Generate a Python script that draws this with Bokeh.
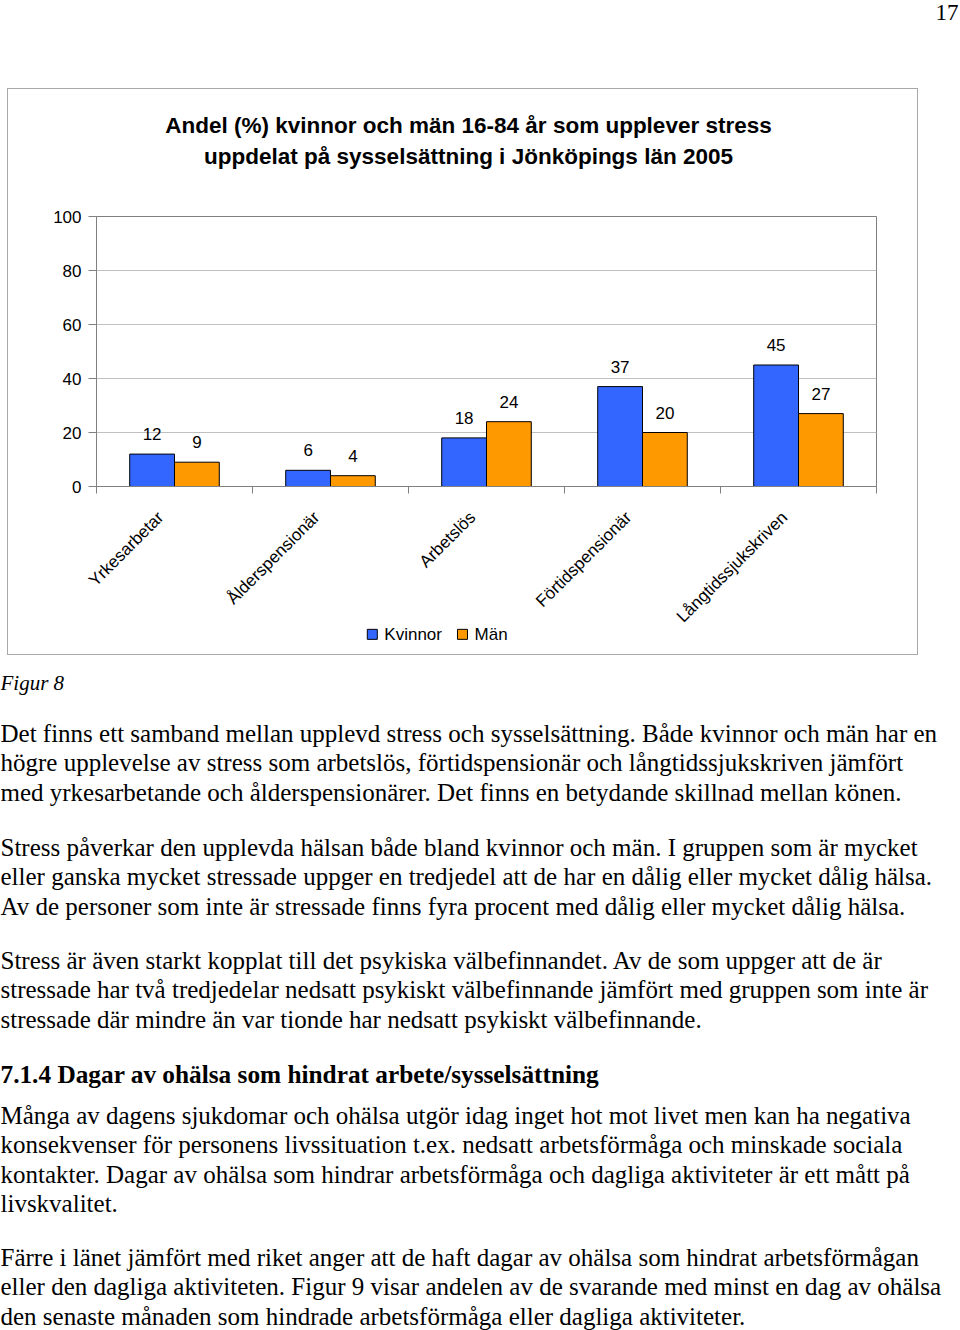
import math
from bokeh.plotting import figure
from bokeh.models import Range1d, FixedTicker, ColumnDataSource, LabelSet
from bokeh.transform import dodge
from bokeh.embed import file_html
from bokeh.resources import INLINE
from bokeh.core.properties import value

# ---------------- data ----------------
categories = ["Yrkesarbetar", "Ålderspensionär", "Arbetslös", "Förtidspensionär", "Långtidssjukskriven"]
kvinnor = [12, 6, 18, 37, 45]
man = [9, 4, 24, 20, 27]
series_names = ["Kvinnor", "Män"]
y_ticks = [0, 20, 40, 60, 80, 100]
title_lines = ["Andel (%) kvinnor och män 16-84 år som upplever stress",
               "uppdelat på sysselsättning i Jönköpings län 2005"]
page_number = "17"
caption = "Figur 8"
heading = "7.1.4 Dagar av ohälsa som hindrat arbete/sysselsättning"
paragraphs = [
    ["Det finns ett samband mellan upplevd stress och sysselsättning. Både kvinnor och män har en",
     "högre upplevelse av stress som arbetslös, förtidspensionär och långtidssjukskriven jämfört",
     "med yrkesarbetande och ålderspensionärer. Det finns en betydande skillnad mellan könen."],
    ["Stress påverkar den upplevda hälsan både bland kvinnor och män. I gruppen som är mycket",
     "eller ganska mycket stressade uppger en tredjedel att de har en dålig eller mycket dålig hälsa.",
     "Av de personer som inte är stressade finns fyra procent med dålig eller mycket dålig hälsa."],
    ["Stress är även starkt kopplat till det psykiska välbefinnandet. Av de som uppger att de är",
     "stressade har två tredjedelar nedsatt psykiskt välbefinnande jämfört med gruppen som inte  är",
     "stressade där mindre än var tionde har nedsatt psykiskt välbefinnande."],
    ["Många av dagens sjukdomar och ohälsa utgör idag inget hot mot livet men kan ha negativa",
     "konsekvenser för personens livssituation t.ex. nedsatt arbetsförmåga och minskade sociala",
     "kontakter. Dagar av ohälsa som hindrar arbetsförmåga och dagliga aktiviteter är ett mått på",
     "livskvalitet."],
    ["Färre i länet jämfört med riket anger att de haft dagar av ohälsa som hindrat arbetsförmågan",
     "eller den dagliga aktiviteten. Figur 9 visar andelen av de svarande med minst en dag av ohälsa",
     "den senaste månaden som hindrade arbetsförmåga eller dagliga aktiviteter."],
]

SANS = "Liberation Sans"
SERIF = "Liberation Serif"
BLUE = "#3366FF"
ORANGE = "#FF9900"
series_colors = [BLUE, ORANGE]
BOX = "1px solid #a8a8a8"


def blank(width, height, xr, yr, **kw):
    f = figure(width=width, height=height, x_range=xr, y_range=yr,
               output_backend="svg", toolbar_location=None, x_axis_type=None,
               y_axis_type=None, outline_line_color=None, **kw)
    f.grid.visible = False
    return f


def boxed(*sides):
    st = {"box-sizing": "content-box", "margin-left": "7px"}
    for s in sides:
        st["border-" + s] = BOX
    return st


# ---------------- header (page number) ----------------
HH = 88
hdr = blank(960, HH, Range1d(0, 960), Range1d(HH, 0), min_border=0)
hdr.text(x=[958], y=[12], text=[page_number], text_align="right", text_baseline="middle",
         text_font=value(SERIF), text_font_size="23px", text_color="black")

# ---------------- chart box (three stacked strips sharing one outline) ----------------
BW = 909                 # inner width of the chart box
FL, FR = 88, 43          # borders left/right of the plot frame
FW = BW - FL - FR        # frame width (778)

# title strip
TT = 116
tfig = blank(BW, TT, Range1d(0, FW), Range1d(TT, 0),
             min_border_left=FL, min_border_right=FR, min_border_top=0, min_border_bottom=0)
tfig.styles = boxed("top", "left", "right")
tfig.text(x=[FW / 2] * len(title_lines), y=[36 + 30 * i for i in range(len(title_lines))],
          text=title_lines, x_offset=-18, text_align="center", text_baseline="middle",
          text_font=value(SANS), text_font_size="22.5px", text_font_style="bold",
          text_color="black")

# bar chart
n = len(categories)
centers = [i + 0.5 for i in range(n)]
bounds = [float(i) for i in range(n + 1)]
src = ColumnDataSource(dict(x=centers, cat=categories, kvinnor=kvinnor, man=man,
                            kl=[str(v) for v in kvinnor], ml=[str(v) for v in man]))

PB = 20
p = figure(width=BW, height=11 + 270 + PB, x_range=Range1d(0, n), y_range=Range1d(0, 100),
           output_backend="svg", toolbar_location=None,
           min_border_left=FL, min_border_right=FR, min_border_top=11, min_border_bottom=PB,
           outline_line_color="#808080", background_fill_color="white",
           border_fill_color="white")
p.styles = boxed("left", "right")

bw = 0.287
p.vbar(x=dodge("x", -bw / 2), top="kvinnor", width=bw, source=src,
       fill_color=BLUE, line_color="black", line_width=1)
p.vbar(x=dodge("x", bw / 2), top="man", width=bw, source=src,
       fill_color=ORANGE, line_color="black", line_width=1)

for col, lab, off in (("kvinnor", "kl", -bw / 2), ("man", "ml", bw / 2)):
    p.add_layout(LabelSet(x=dodge("x", off), y=col, text=lab, source=src, y_offset=14,
                          text_align="center", text_baseline="alphabetic",
                          text_font=value(SANS), text_font_size="17px", text_color="black"))

p.xgrid.visible = False
p.ygrid.grid_line_color = "#c0c0c0"
p.ygrid.ticker = FixedTicker(ticks=y_ticks)

ya = p.yaxis[0]
ya.ticker = FixedTicker(ticks=y_ticks)
ya.axis_line_color = "#808080"
ya.major_tick_line_color = "#808080"
ya.major_tick_out = 8
ya.major_tick_in = 0
ya.minor_tick_line_color = None
ya.major_label_standoff = 7
ya.major_label_text_font = SANS
ya.major_label_text_font_size = "17px"
ya.major_label_text_color = "black"

xa = p.xaxis[0]
xa.ticker = FixedTicker(ticks=[], minor_ticks=bounds)
xa.axis_line_color = "#808080"
xa.major_tick_line_color = None
xa.major_tick_out = 0
xa.major_tick_in = 0
xa.minor_tick_line_color = "#808080"
xa.minor_tick_out = 7
xa.minor_tick_in = 0
xa.major_label_standoff = 0
xa.major_label_text_font_size = "0px"

# strip under the chart: rotated category labels (same x scale as the chart) + legend
LT = 506                              # page y where this strip starts
LH = 654 - LT                         # down to the bottom border of the box
unit = FW / n
lfig = blank(BW, LH, Range1d(-FL / unit, n + FR / unit), Range1d(LH, 0), min_border=0)
lfig.styles = boxed("bottom", "left", "right")
lfig.text(x="x", y=514 - LT, text="cat", source=src, angle=math.pi / 4,
          x_offset=-14, text_align="right", text_baseline="middle",
          text_font=value(SANS), text_font_size="17px", text_color="black")

lfig.extra_x_ranges = {"px": Range1d(-FL, FW + FR)}
leg_y = 633 - LT
sq_x = [275, 365]
lfig.scatter(x=sq_x, y=[leg_y] * 2, marker="square", size=10, x_range_name="px",
             fill_color=series_colors, line_color="black", line_width=1)
lfig.text(x=[sx + 12 for sx in sq_x], y=[leg_y] * 2, text=series_names, x_range_name="px",
          text_align="left", text_baseline="middle",
          text_font=value(SANS), text_font_size="17px", text_color="black")

# ---------------- body text ----------------
TOP = 655
TH = 1330 - TOP
txt = blank(960, TH, Range1d(0, 960), Range1d(TH, 0), min_border=0)

txt.text(x=[0], y=[682 - TOP], text=[caption], text_baseline="middle",
         text_font=value(SERIF), text_font_size="21px", text_font_style="italic",
         text_color="black")

LS = 29.4
para_start = [733, 847, 960, 1115, 1257]
xs, ys, ts = [], [], []
for start, lines in zip(para_start, paragraphs):
    for j, line in enumerate(lines):
        xs.append(0)
        ys.append(start + j * LS - TOP)
        ts.append(line)
txt.text(x=xs, y=ys, text=ts, text_baseline="middle",
         text_font=value(SERIF), text_font_size="25px", text_color="black")
txt.text(x=[0], y=[1073 - TOP], text=[heading], text_baseline="middle",
         text_font=value(SERIF), text_font_size="25.3px", text_font_style="bold",
         text_color="black")

open("out.html", "w").write(file_html([hdr, tfig, p, lfig, txt], INLINE))
